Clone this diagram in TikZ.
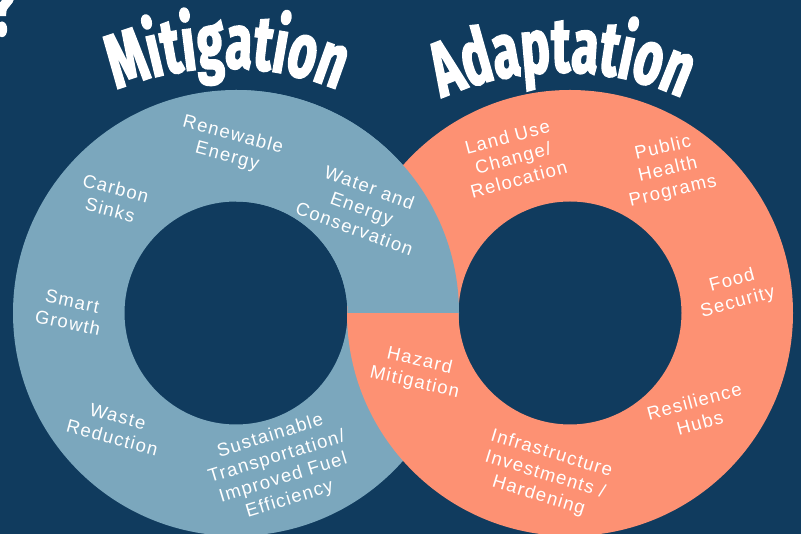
\documentclass[tikz,border=0pt]{standalone}
\usepackage{fontspec}
\usetikzlibrary{decorations.text}
\newfontfamily\ttlfam[FakeStretch=0.63,FakeBold=2.2]{Fira Sans}
\newfontfamily\lblfam[LetterSpace=7]{Liberation Sans}
\newcommand\ttlfmt{\ttlfam\bfseries\fontsize{77}{90}\selectfont}
\newcommand\lblfmt{\lblfam\fontsize{18.5}{22}\selectfont}
\definecolor{bgnavy}{HTML}{103B5E}
\definecolor{ringblue}{HTML}{7BA7BD}
\definecolor{ringsalmon}{HTML}{FD9173}
\begin{document}
\begin{tikzpicture}[x=1pt,y=1pt,
  lbl/.style={text=white,font=\lblfmt,align=center,inner sep=0pt}]
\useasboundingbox (0,0) rectangle (801,534);
\fill[bgnavy] (0,0) rectangle (801,534);
% rings
\fill[ringblue,even odd rule] (236,221) circle[radius=223] (236,221) circle[radius=111.5];
\fill[ringsalmon,even odd rule] (570,221) circle[radius=223] (570,221) circle[radius=111.5];
\fill[ringblue] (347.5,221) -- (459,221) arc[start angle=0,end angle=90,radius=223]
  -- (236,332.5) arc[start angle=90,end angle=0,radius=111.5] -- cycle;
% titles
\path[decorate,decoration={text along path,text align=center,
  text={|\ttlfmt\color{white}|Mitigation}}]
  (227,176) ++(150:290) arc[start angle=150,end angle=30,radius=290];
\path[decorate,decoration={text along path,text align=center,
  text={|\ttlfmt\color{white}|Adaptation}}]
  (562,172) ++(150:290) arc[start angle=150,end angle=30,radius=290];
\node[text=white,font=\ttlfmt,inner sep=0pt,anchor=base east] (qm) at (15,499) {?};
% mitigation labels
\node[lbl,rotate=-15] (renew) at (230,388) {Renewable\\Energy};
\node[lbl,rotate=-15] (carbon) at (113,335) {Carbon\\Sinks};
\node[lbl,rotate=-12] (smart) at (70,222) {Smart\\Growth};
\node[lbl,rotate=-15] (waste) at (115,107) {Waste\\Reduction};
\node[lbl,rotate=17] (transp) at (280,66) {Sustainable\\Transportation/\\Improved Fuel\\Efficiency};
\node[lbl,rotate=-20] (water) at (362,326) {Water and\\Energy\\Conservation};
% adaptation labels
\node[lbl,rotate=15] (land) at (513,376) {Land Use\\Change/\\Relocation};
\node[lbl,rotate=13] (health) at (668,364) {Public\\Health\\Programs};
\node[lbl,rotate=15] (food) at (735,242) {Food\\Security};
\node[lbl,rotate=15] (hubs) at (697,122) {Resilience\\Hubs};
\node[lbl,rotate=-17] (infra) at (545,59) {Infrastructure\\Investments /\\Hardening};
\node[lbl,rotate=-13] (hazard) at (417,162) {Hazard\\Mitigation};
\end{tikzpicture}
\end{document}
